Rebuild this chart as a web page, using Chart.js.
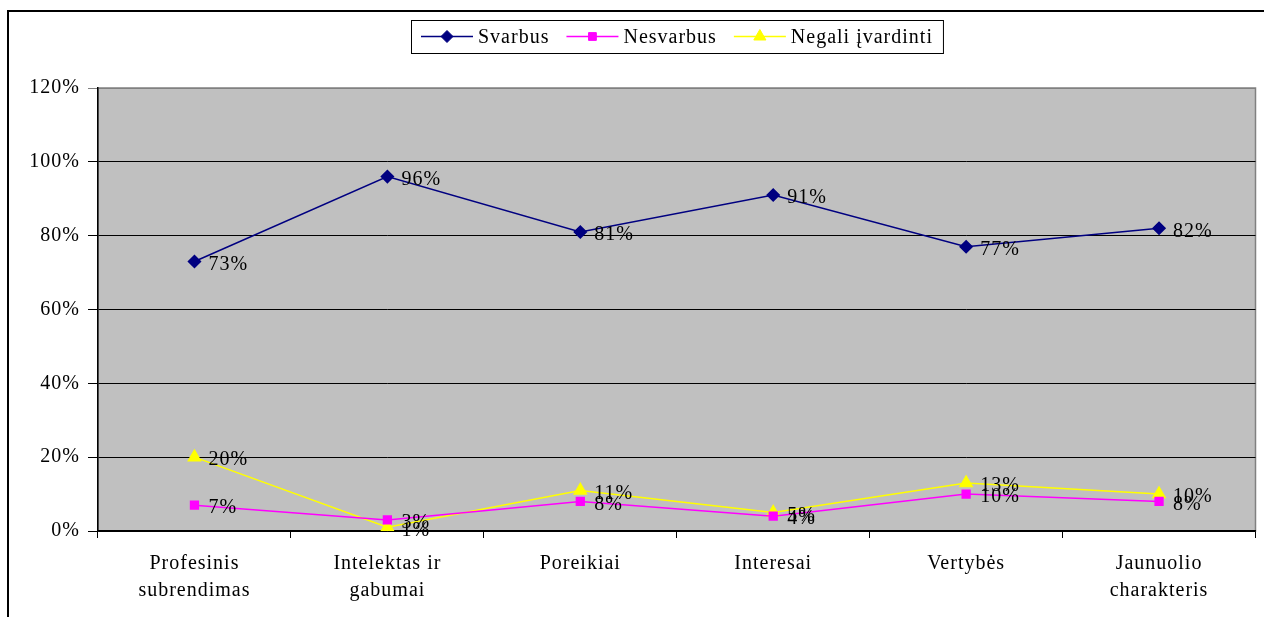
<!DOCTYPE html>
<html>
<head>
<meta charset="utf-8">
<script src="https://cdn.jsdelivr.net/npm/chart.js@4/dist/chart.umd.min.js"></script>
<style>
  html, body { margin: 0; padding: 0; background: #fff; }
  #wrap { width: 1264px; height: 617px; position: relative; }
</style>
</head>
<body>
<div id="wrap"><canvas id="chart"></canvas></div>
<script>
// categories (multi-line axis labels)
const categories = [
  ['Profesinis', 'subrendimas'],
  ['Intelektas ir', 'gabumai'],
  ['Poreikiai'],
  ['Interesai'],
  ['Vertybės'],
  ['Jaunuolio', 'charakteris']
];
const svarbus = [73, 96, 81, 91, 77, 82];
const nesvarbus = [7, 3, 8, 4, 10, 8];
const negali = [20, 1, 11, 5, 13, 10];
const yTicks = [0, 20, 40, 60, 80, 100, 120];

const FONT = "'Liberation Serif', 'Times New Roman', serif";
const SIZE = 20;

// slightly spaced lettering like the original
const spacing = {
  id: 'spacing',
  beforeUpdate(chart) { chart.ctx.letterSpacing = '1px'; },
  beforeDraw(chart) { chart.ctx.letterSpacing = '1px'; }
};

// grey plot area + outer frame
const backdrop = {
  id: 'backdrop',
  beforeDraw(chart) {
    const { ctx, chartArea: a } = chart;
    ctx.save();
    ctx.fillStyle = '#c0c0c0';
    ctx.fillRect(a.left, a.top, a.right - a.left, a.bottom - a.top);
    ctx.strokeStyle = '#808080';
    ctx.lineWidth = 1.5;
    ctx.strokeRect(a.left, a.top, a.right - a.left, a.bottom - a.top);
    // outer frame (left + top edges visible)
    ctx.strokeStyle = '#000';
    ctx.lineWidth = 2;
    ctx.beginPath();
    ctx.moveTo(8, chart.height);
    ctx.lineTo(8, 11);
    ctx.lineTo(chart.width, 11);
    ctx.stroke();
    ctx.restore();
  }
};

// value labels to the right of each point
const valueLabels = {
  id: 'valueLabels',
  afterDatasetsDraw(chart) {
    const { ctx } = chart;
    ctx.save();
    ctx.font = SIZE + 'px ' + FONT;
    ctx.fillStyle = '#000';
    ctx.textBaseline = 'middle';
    ctx.textAlign = 'left';
    chart.data.datasets.forEach((ds, i) => {
      chart.getDatasetMeta(i).data.forEach((pt, j) => {
        ctx.fillText(ds.data[j] + '%', pt.x + 14, pt.y + 3);
      });
    });
    ctx.restore();
  }
};

// boxed legend with line + marker samples
const boxLegend = {
  id: 'boxLegend',
  afterDraw(chart) {
    const { ctx, chartArea: a } = chart;
    ctx.save();
    ctx.font = SIZE + 'px ' + FONT;
    const lineLen = 52, gapText = 5, gapItem = 17, padX = 10;
    const items = chart.data.datasets.map(ds => ({ ds, w: ctx.measureText(ds.label).width }));
    let total = padX * 2;
    items.forEach((it, i) => { total += lineLen + gapText + it.w + (i ? gapItem : 0); });
    const cx = (a.left + a.right) / 2;
    const left = Math.round(cx - total / 2);
    const top = 20, h = 33, cy = top + h / 2;
    ctx.fillStyle = '#fff';
    ctx.fillRect(left, top, total, h);
    ctx.strokeStyle = '#000';
    ctx.lineWidth = 1;
    ctx.strokeRect(left + 0.5, top + 0.5, total, h);
    let x = left + padX;
    items.forEach((it, i) => {
      if (i) x += gapItem;
      ctx.strokeStyle = it.ds.borderColor;
      ctx.fillStyle = it.ds.borderColor;
      ctx.lineWidth = 1.5;
      ctx.beginPath();
      ctx.moveTo(x, cy);
      ctx.lineTo(x + lineLen, cy);
      ctx.stroke();
      ctx.lineWidth = 1;
      Chart.helpers.drawPoint(ctx, {
        pointStyle: it.ds.pointStyle, radius: it.ds.pointRadius, rotation: 0, borderWidth: 1
      }, x + lineLen / 2, cy);
      x += lineLen + gapText;
      ctx.fillStyle = '#000';
      ctx.textBaseline = 'middle';
      ctx.textAlign = 'left';
      ctx.fillText(it.ds.label, x, cy + 1);
      x += it.w;
    });
    ctx.restore();
  }
};

function series(label, data, color, style, r) {
  return {
    label, data,
    borderColor: color,
    backgroundColor: color,
    pointBackgroundColor: color,
    pointBorderColor: color,
    pointStyle: style,
    pointRadius: r,
    pointHoverRadius: r,
    borderWidth: 1.5,
    tension: 0
  };
}

new Chart(document.getElementById('chart'), {
  type: 'line',
  data: {
    labels: categories,
    datasets: [
      series('Svarbus', svarbus, '#000080', 'rectRot', 6),
      series('Nesvarbus', nesvarbus, '#ff00ff', 'rect', 5.5),
      series('Negali įvardinti', negali, '#ffff00', 'triangle', 7)
    ]
  },
  options: {
    responsive: true,
    maintainAspectRatio: false,
    animation: false,
    layout: { padding: { top: 88, right: 7, left: 0, bottom: 0 } },
    plugins: {
      legend: { display: false },
      tooltip: { enabled: false }
    },
    scales: {
      x: {
        offset: true,
        grid: { offset: true, drawOnChartArea: false, color: '#000', tickLength: 7 },
        border: { color: '#000', width: 1.5 },
        ticks: { color: '#000', font: { family: FONT, size: SIZE, lineHeight: 1.35 }, padding: 12, maxRotation: 0, autoSkip: false },
        afterFit(s) { s.height = 86; }
      },
      y: {
        min: 0, max: 120,
        afterBuildTicks(s) { s.ticks = yTicks.map(v => ({ value: v })); },
        grid: {
          color: c => (c.tick && c.tick.value === 120 ? '#808080' : '#000'),
          lineWidth: 1,
          tickLength: 10
        },
        border: { color: '#000', width: 1.5 },
        ticks: { color: '#000', font: { family: FONT, size: SIZE }, padding: 8, callback: v => v + '%' },
        afterFit(s) { s.width = 98; }
      }
    }
  },
  plugins: [spacing, backdrop, valueLabels, boxLegend]
});
</script>
</body>
</html>
